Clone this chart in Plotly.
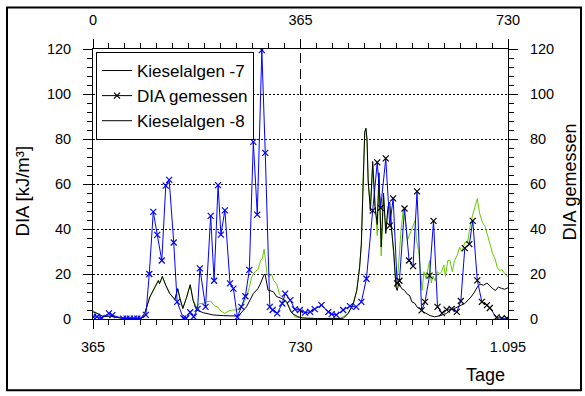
import plotly.graph_objects as go

# ---- data (bottom axis days) ----
days_dia = [365, 372, 380, 393, 399, 418, 424, 430, 437, 443, 449, 458, 464, 471, 478, 486, 493, 499, 507, 513,
            524, 529, 536, 542, 549, 553, 563, 572, 578, 585, 590, 597, 606, 612, 619, 626, 633, 640,
            647, 654, 662, 668, 676, 681, 689, 698, 703, 712, 720, 729, 738, 747, 755, 767, 779, 785, 793, 805, 817,
            828, 837, 846, 857, 865, 871, 880, 887, 893, 900, 904, 913, 921, 928, 935, 943, 949, 957, 964, 971,
            979, 987, 996, 1005, 1012, 1019, 1027, 1033, 1041, 1049, 1058, 1063, 1075, 1084, 1093]
vals_dia = [1.0, 1.0, 0.5, 2.5, 1.7, 0.2, 0.2, 0.2, 0.2, 0.2, 0.2, 1.8, 20, 47.6, 37.4, 26, 59.3, 61.8, 34, 7.6,
            0.3, 0.3, 3.0, 1.0, 4.5, 22.5, 5.4, 45.8, 17, 59.5, 37.5, 48.3, 15.8, 13.5, 0.8, 5.4, 10.1, 21.8,
            78.7, 46.4, 119.5, 73.8, 5.4, 4.0, 2.5, 6.9, 11.3, 8.4, 4.3, 4.0, 2.8, 3.2, 4.4, 6.2, 3.2, 2.2, 1.8, 4.0, 5.7,
            5.4, 7.6, 17.9, 48.2, 69.6, 49.4, 71.4, 41.5, 53.6, 15.8, 17.0, 49.1, 26, 23.5, 56.7, 3.8, 7.6, 19.3, 43.6, 5.4,
            2.6, 4.2, 4.5, 3.2, 8.0, 31.5, 33.3, 43.6, 17.2, 7.6, 6.2, 4.9, 0.7, 0.3, 0.3]
dia_split_day = 846  # markers blue up to here, black afterwards

days_k7 = [365, 372, 383, 393, 407, 418, 449, 456, 465, 474, 480, 482, 487, 493, 500, 509, 514, 518, 523, 529,
           536, 541, 547, 559, 576, 595, 618, 623, 635, 647, 655, 660, 666, 668, 673, 682, 688, 697, 706, 713,
           717, 726, 735, 760, 790, 805, 814, 823, 829, 834, 837, 840, 843, 845, 847, 849, 853, 857, 861, 865,
           868, 872, 876, 880, 884, 887, 890, 894, 898, 900, 903, 908, 913, 918, 922, 926, 931, 936, 940, 946,
           952, 958, 966, 976, 987, 993, 999, 1006, 1013, 1019, 1025, 1030, 1036, 1041, 1046, 1052, 1058, 1063,
           1068, 1073, 1078, 1084, 1089, 1095]
vals_k7 = [3.2, 2.5, 1.0, 1.3, 0.7, 0.3, 0.2, 2.5, 9.8, 14.2, 17.1, 15.7, 18.9, 15, 11.3, 8.7, 13.5, 9.1, 4.7, 9.1,
           15.2, 8.4, 4.0, 2.8, 1.8, 1.5, 1.3, 2.0, 5.4, 11.3, 13.5, 16, 19.8, 19.5, 12.8, 12.2, 10, 9.1, 7.6, 3.2,
           2.2, 1.0, 0.4, 0.2, 0.2, 0.3, 2.5, 6.9, 12.7, 23, 33.3, 61, 83, 84.8, 80, 62, 48, 70, 50, 42,
           65, 32, 56, 38, 50, 52, 40, 30, 14.2, 12.7, 16, 13.5, 12.7, 11, 10.4, 7.6, 7.0, 5.0, 4.7, 3.2,
           2.5, 1.5, 1.0, 1.5, 2.5, 4.0, 4.5, 5.4, 6.0, 6.9, 8.5, 9.8, 12, 14.2, 15.5, 15, 16, 14.5,
           13.5, 12.7, 14.2, 13.6, 13.2, 13.9]

days_k8 = [365, 372, 383, 393, 407, 418, 449, 456, 465, 474, 480, 482, 487, 493, 500, 509, 514, 518, 523, 529,
           536, 541, 547, 553, 559, 565, 572, 578, 585, 590, 597, 603, 610, 618, 624, 630, 635, 640, 644, 650,
           655, 660, 663, 666, 668, 671, 675, 679, 683, 688, 693, 698, 703, 708, 713, 720, 730, 760, 800, 814,
           823, 829, 834, 837, 840, 843, 845, 847, 849, 853, 857, 861, 865, 868, 872, 876, 880, 884, 887, 890,
           894, 898, 902, 907, 911, 914, 918, 921, 925, 928, 932, 934, 938, 944, 947, 951, 957, 960, 963, 967,
           971, 975, 978, 982, 985, 989, 993, 997, 1001, 1006, 1010, 1014, 1019, 1024, 1028, 1033, 1037, 1041,
           1045, 1050, 1055, 1060, 1064, 1068, 1072, 1076, 1080, 1084, 1088, 1091, 1095]
vals_k8 = [3.6, 2.7, 1.1, 1.3, 0.7, 0.3, 0.2, 2.5, 9.8, 14.2, 17.1, 15.7, 18.9, 15, 11.3, 8.7, 13.5, 9.1, 4.7, 9.1,
           15.2, 8.4, 5.5, 6.9, 7.0, 7.6, 8.0, 6.0, 5.2, 3.5, 2.5, 3.5, 4.0, 4.0, 5.5, 7.0, 9.8, 14, 18.6, 21,
           22, 26, 27, 31, 27, 20, 18.6, 20, 17, 15.7, 11, 9.8, 8.4, 6.0, 4.0, 1.0, 0.5, 0.2, 0.2, 2.5,
           6.9, 12.7, 23, 33.3, 61, 83, 84.5, 80, 60, 50, 68, 52, 37, 62, 28, 55, 40, 48, 50, 42,
           28, 14, 22, 40, 49, 45, 35, 37, 39, 41, 44, 35, 30, 12.7, 21, 18, 26, 16, 19, 17,
           21, 20, 21, 24, 19, 26, 26, 21, 26, 28.5, 32, 30, 34, 34, 40.6, 46.4, 50, 53.5,
           47, 43, 41, 36, 33, 29, 27, 23, 21.5, 22, 20.5, 20, 18.6]

legend_names = ["Kieselalgen -7", "DIA gemessen", "Kieselalgen -8"]
x_range = [365, 1095]
x2_range = [0, 730]
y_range = [0, 120]
x_major = [365, 730, 1095]
x_major_labels = ["365", "730", "1.095"]
x2_major = [0, 365, 730]
x2_major_labels = ["0", "365", "730"]
y_major = [0, 20, 40, 60, 80, 100, 120]
year_boundary = 730
x_minor_step = 365 / 13
y_minor_step = 4

FONT = "Liberation Sans, Arial, sans-serif"
BLUE = "#0000FF"
GREEN = "#66CC00"
TICKFONT = dict(family=FONT, size=14.5, color="black")

x_minor = [x_range[0] + k * x_minor_step for k in range(27)]
x2_minor = [x2_range[0] + k * x_minor_step for k in range(27)]
y_minor = [k * y_minor_step for k in range(31)]

marker_colors = [BLUE if d <= dia_split_day else "black" for d in days_dia]

fig = go.Figure()
fig.add_trace(go.Scatter(x=days_k8, y=vals_k8, mode="lines", line=dict(color=GREEN, width=1),
                         showlegend=False, hoverinfo="skip"))
fig.add_trace(go.Scatter(x=days_k7, y=vals_k7, mode="lines", line=dict(color="black", width=1),
                         showlegend=False, hoverinfo="skip"))
fig.add_trace(go.Scatter(x=days_dia, y=vals_dia, mode="lines+markers", yaxis="y2",
                         line=dict(color=BLUE, width=1),
                         marker=dict(symbol="x-thin", size=6, color=marker_colors,
                                     line=dict(color=marker_colors, width=1.2)),
                         showlegend=False, hoverinfo="skip"))

# legend entries (all drawn in black in the original legend) -- empty traces that also activate extra axes
fig.add_trace(go.Scatter(x=[None], y=[None], xaxis="x2", mode="lines", name=legend_names[0],
                         line=dict(color="black", width=1)))
fig.add_trace(go.Scatter(x=[None], y=[None], xaxis="x3", mode="lines+markers", name=legend_names[1],
                         line=dict(color="black", width=1),
                         marker=dict(symbol="x-thin", size=6, color="black", line=dict(color="black", width=1.2))))
fig.add_trace(go.Scatter(x=[None], y=[None], xaxis="x4", mode="lines", name=legend_names[2],
                         line=dict(color="black", width=1)))
fig.add_trace(go.Scatter(x=[None], y=[None], yaxis="y3", showlegend=False))
fig.add_trace(go.Scatter(x=[None], y=[None], yaxis="y4", showlegend=False))

L, R, T, B = 93, 77, 46, 77
W, H = 585, 396
pw, ph = W - L - R, H - T - B

base = dict(zeroline=False, tickcolor="black", tickwidth=1, tickfont=TICKFONT, showgrid=False)
minor_ax = dict(showline=True, linecolor="black", linewidth=1, ticks="outside", ticklen=5,
                tickmode="array", showticklabels=False, **base)
major_ax = dict(showline=False, ticks="outside", ticklen=9, tickmode="array", showticklabels=True)

fig.update_layout(
    width=W, height=H, autosize=False,
    margin=dict(l=L, r=R, t=T, b=B, pad=0),
    paper_bgcolor="white", plot_bgcolor="white",
    font=dict(family=FONT, color="black"),
    xaxis=dict(range=x_range, tickvals=x_minor, **minor_ax),
    xaxis2=dict(range=x2_range, overlaying="x", side="top", anchor="y", tickvals=x2_minor, **minor_ax),
    xaxis3=dict(range=x_range, overlaying="x", side="bottom", anchor="y", tickvals=x_major,
                ticktext=x_major_labels, ticklabelstandoff=6, **major_ax, **base),
    xaxis4=dict(range=x2_range, overlaying="x", side="top", anchor="y", tickvals=x2_major,
                ticktext=x2_major_labels, ticklabelstandoff=8, **major_ax, **base),
    yaxis=dict(range=y_range, tickvals=y_minor, **minor_ax),
    yaxis2=dict(range=y_range, overlaying="y", side="right", anchor="x", tickvals=y_minor, **minor_ax),
    yaxis3=dict(range=y_range, overlaying="y", side="left", anchor="x", tickvals=y_major,
                ticklabelstandoff=9, **major_ax,
                zeroline=False, tickcolor="black", tickwidth=1, tickfont=TICKFONT,
                showgrid=True, gridcolor="black", griddash="2px,2px", gridwidth=1),
    yaxis4=dict(range=y_range, overlaying="y", side="right", anchor="x", tickvals=y_major,
                ticklabelstandoff=9, **major_ax, **base),
    legend=dict(x=(96 - L) / pw, y=1 - (49 - T) / ph, xanchor="left", yanchor="top",
                bgcolor="white", bordercolor="black", borderwidth=1,
                font=dict(family=FONT, size=17, color="black"), tracegroupgap=0, itemwidth=30),
    shapes=[
        dict(type="line", xref="x", yref="y", x0=year_boundary, x1=year_boundary, y0=y_range[0], y1=y_range[1],
             line=dict(color="black", width=1, dash="10px,6px")),
        dict(type="rect", xref="paper", yref="paper",
             x0=(7 - L) / pw, x1=(581 - L) / pw, y0=-(391 - T - ph) / ph, y1=(T + ph - 4) / ph,
             line=dict(color="black", width=2)),
    ],
    annotations=[
        dict(text="Tage", xref="paper", yref="paper", x=(485 - L) / pw, y=(T + ph - 376) / ph,
             showarrow=False, font=dict(family=FONT, size=18, color="black"), xanchor="center", yanchor="middle"),
        dict(text="DIA [kJ/m³]", xref="paper", yref="paper", x=(22 - L) / pw, y=(T + ph - 190) / ph,
             textangle=-90, showarrow=False, font=dict(family=FONT, size=18.5, color="black"),
             xanchor="center", yanchor="middle"),
        dict(text="DIA gemessen", xref="paper", yref="paper", x=(570 - L) / pw, y=(T + ph - 181) / ph,
             textangle=-90, showarrow=False, font=dict(family=FONT, size=18, color="black"),
             xanchor="center", yanchor="middle"),
    ],
)

fig.write_html("out.html")
